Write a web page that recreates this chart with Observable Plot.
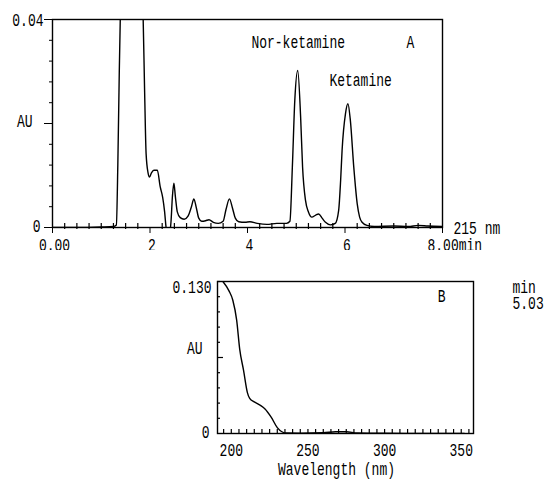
<!DOCTYPE html>
<html>
<head>
<meta charset="utf-8">
<script src="https://cdn.jsdelivr.net/npm/d3@7"></script>
<script src="https://cdn.jsdelivr.net/npm/@observablehq/plot@0.6"></script>
<style>
  body { margin: 0; background: #fff; }
  #wrap { position: relative; width: 546px; height: 481px; }
  #a { position: absolute; left: 0; top: 0; }
  #b { position: absolute; left: 0; top: 250px; }
</style>
</head>
<body>
<div id="wrap"><div id="a"></div><div id="b"></div></div>
<script>
// Panel A: chromatogram at 215 nm
const timeMin = [0.00,0.50,1.00,1.25,1.31,1.34,1.37,1.40,1.45,1.60,1.75,1.83,1.86,1.89,1.92,1.96,1.99,2.03,2.08,2.15,2.21,2.26,2.30,2.33,2.36,2.40,2.43,2.46,2.49,2.52,2.56,2.62,2.70,2.78,2.85,2.90,2.95,3.00,3.06,3.14,3.21,3.30,3.40,3.50,3.56,3.63,3.69,3.75,3.82,3.95,4.05,4.20,4.40,4.60,4.80,4.87,4.92,4.97,5.03,5.09,5.13,5.19,5.25,5.32,5.40,5.46,5.53,5.60,5.70,5.80,5.87,5.91,5.94,6.01,6.06,6.11,6.18,6.25,6.30,6.35,6.45,6.60,7.00,7.30,7.50,7.70,8.00];
const absA = [0.0000,0.0000,0.0001,0.0002,0.0005,0.012,0.030,0.045,0.065,0.080,0.070,0.048,0.040,0.026,0.0142,0.0105,0.0097,0.0105,0.0110,0.0110,0.0078,0.0058,0.0030,0.0000,-0.0012,-0.0012,0.0010,0.0060,0.0085,0.0060,0.0030,0.0019,0.0016,0.0022,0.0040,0.0055,0.0038,0.0018,0.0012,0.0013,0.0015,0.0010,0.0008,0.0012,0.0035,0.0055,0.0038,0.0018,0.0011,0.0010,0.0011,0.0008,0.0006,0.0008,0.0008,0.0012,0.0116,0.0244,0.0302,0.0212,0.0116,0.0052,0.0030,0.0020,0.0024,0.0026,0.0018,0.0010,0.0005,0.0008,0.0033,0.0090,0.0148,0.0219,0.0238,0.0206,0.0116,0.0046,0.0020,0.0010,0.0004,0.0002,0.0003,0.0002,0.0004,0.0003,0.0002];
const xTicksA = [0, 2, 4, 6, 8];
const xTickLabelsA = ["0.00", "2", "4", "6"];
const yTicksA = [0, 0.02, 0.04];
const yLabelsA = ["0", "AU", "0.04"];

// Panel B: UV spectrum at 5.03 min
const wavelength = [194.5,198.5,201.0,203.5,205.5,208.0,210.5,212.0,215.0,219.0,222.0,226.0,230.0,233.0,236.0,245.0,260.0,268.0,275.0,282.0,300.0,330.0,352.0];
const absB = [0.130,0.122,0.114,0.097,0.072,0.054,0.035,0.030,0.027,0.024,0.021,0.014,0.005,0.0015,0.0004,0.0003,0.0006,0.0015,0.0015,0.0005,0.0002,0.0001,0.0001];
const xTicksB = [200, 250, 300, 350];
const xTickLabelsB = ["200", "250", "300", "350"];
const yTicksB = [0, 0.065, 0.13];
const yLabelsB = ["0", "AU", "0.130"];

const font = "Liberation Mono";
const fs = 13;
const stretch = 1.35;
const T = {fontSize: fs, lineAnchor: "middle", fill: "#000"};
const dataA = timeMin.map((t, i) => ({t, v: absA[i]}));
const dataB = wavelength.map((w, i) => ({w, v: absB[i]}));

const minorXA = d3.range(0.25, 8, 0.25).filter(d => d % 2 !== 0);
const minorYA = d3.range(0.004, 0.04, 0.004).filter(d => Math.abs(d - 0.02) > 1e-9);

const yLabDxA = [-12, -20, -9];
const yLabDyA = [-1.5, -2.5, 0.5];

const hA = 258, mtA = 19, mbA = 31;
const innerHA = hA - mtA - mbA;
const pxA = 0.04 / innerHA; // AU per pixel
const plotA = Plot.plot({
  width: 546, height: hA,
  marginLeft: 52, marginRight: 104, marginTop: mtA, marginBottom: mbA,
  style: {fontFamily: font, fontSize: fs + "px", color: "#000", background: "#fff"},
  x: {domain: [0, 8], axis: null},
  y: {domain: [0, 0.04], axis: null},
  marks: [
    Plot.line(dataA, {x: "t", y: "v", clip: true, stroke: "#000", strokeWidth: 1.4, curve: "monotone-x"}),
    Plot.ruleX(minorXA, {x: d => d, y1: -2 * pxA, y2: 4 * pxA, stroke: "#000", strokeWidth: 1.2}),
    Plot.axisX({ticks: xTicksA, tickSize: 6, tickFormat: () => "", label: null}),
    Plot.text(xTickLabelsA, {...T, x: (d, i) => xTicksA[i], frameAnchor: "bottom", dx: 2, dy: 17.5}),
    Plot.text(["8.00min"], {...T, frameAnchor: "bottom-right", textAnchor: "start", dx: -15, dy: 17.5}),
    Plot.text(["215 nm"], {...T, frameAnchor: "bottom-right", textAnchor: "start", dx: 11, dy: 0.5}),
    Plot.axisY({ticks: yTicksA, tickSize: 8, tickFormat: () => "", label: null}),
    Plot.axisY({ticks: minorYA, tickSize: 3, tickFormat: () => "", label: null}),
    ...yLabelsA.map((s, i) => Plot.text([s], {...T, y: [yTicksA[i]], frameAnchor: "left", textAnchor: "end", dx: yLabDxA[i], dy: yLabDyA[i]})),
    Plot.text(["Nor-ketamine"], {...T, x: [5.04], y: [0.0356]}),
    Plot.text(["A"], {...T, x: [7.34], y: [0.0356]}),
    Plot.text(["Ketamine"], {...T, x: [6.32], y: [0.0283]}),
    Plot.frame({stroke: "#000", strokeWidth: 1.4})
  ]
});

const hB = 231, mtB = 31, mbB = 48, mlB = 217, mrB = 73;
const wB = 546 - mlB - mrB;
const pxBx = (358 - 191) / wB; // nm per pixel
const pxBy = 0.13 / (hB - mtB - mbB);
const minorXB = d3.range(195, 356, 5);
const minorYB = d3.range(0.013, 0.13, 0.013).filter(d => Math.abs(d - 0.065) > 1e-9);
const yLabDxB = [-8, -15, -6];
const yLabDyB = [-1.5, -9.5, 5.5];

const plotB = Plot.plot({
  width: 546, height: hB,
  marginLeft: mlB, marginRight: mrB, marginTop: mtB, marginBottom: mbB,
  style: {fontFamily: font, fontSize: fs + "px", color: "#000", background: "#fff"},
  x: {domain: [191, 358], axis: null},
  y: {domain: [0, 0.13], axis: null},
  marks: [
    Plot.line(dataB, {x: "w", y: "v", clip: true, stroke: "#000", strokeWidth: 1.4, curve: "monotone-x"}),
    Plot.ruleX(minorXB, {x: d => d, y1: 0, y2: 4 * pxBy, stroke: "#000", strokeWidth: 1.2}),
    Plot.ruleY(minorYB, {y: d => d, x1: 191, x2: 191 + 3 * pxBx, stroke: "#000", strokeWidth: 1.2}),
    Plot.ruleY([0.065], {y: d => d, x1: 191, x2: 191 + 6 * pxBx, stroke: "#000", strokeWidth: 1.2}),
    Plot.text(xTickLabelsB, {...T, x: (d, i) => xTicksB[i], frameAnchor: "bottom", dy: 17}),
    Plot.text(["Wavelength (nm)"], {...T, frameAnchor: "bottom", dx: -9, dy: 36}),
    ...yLabelsB.map((s, i) => Plot.text([s], {...T, y: [yTicksB[i]], frameAnchor: "left", textAnchor: "end", dx: yLabDxB[i], dy: yLabDyB[i]})),
    Plot.text(["B"], {...T, frameAnchor: "top-right", dx: -28, dy: 14.5}),
    Plot.text(["min"], {...T, frameAnchor: "top-right", textAnchor: "start", dx: 39, dy: 6}),
    Plot.text(["5.03"], {...T, frameAnchor: "top-right", textAnchor: "start", dx: 39, dy: 22}),
    Plot.frame({stroke: "#000", strokeWidth: 1.4})
  ]
});

// Stretch glyphs vertically to mimic the tall, narrow plotter lettering
function stretchText(svg) {
  svg.querySelectorAll("text").forEach(t => {
    const tr = t.getAttribute("transform");
    if (tr) {
      t.setAttribute("transform", tr + ` scale(1,${stretch})`);
    } else {
      const y = parseFloat(t.getAttribute("y")) || 0;
      t.setAttribute("transform", `translate(0,${y * (1 - stretch)}) scale(1,${stretch})`);
    }
  });
}
stretchText(plotA);
stretchText(plotB);

document.getElementById("a").appendChild(plotA);
document.getElementById("b").appendChild(plotB);
</script>
</body>
</html>
